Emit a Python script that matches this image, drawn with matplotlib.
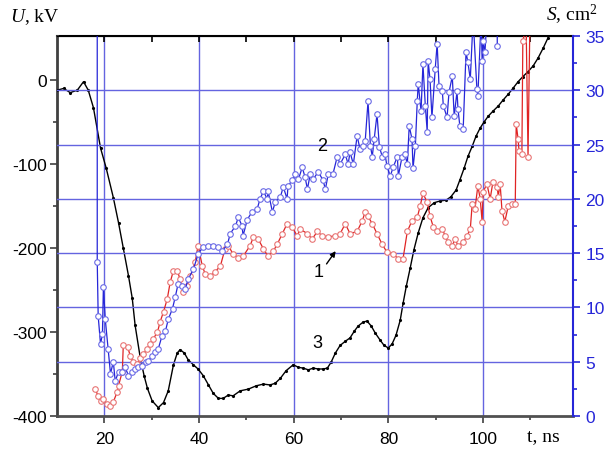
import matplotlib
matplotlib.use("Agg")
import matplotlib.pyplot as plt
from matplotlib.ticker import FixedLocator, MultipleLocator

plt.rcParams['font.family'] = ['Liberation Sans', 'DejaVu Sans']
plt.rcParams['axes.unicode_minus'] = False
plt.rcParams['mathtext.fontset'] = 'custom'
plt.rcParams['mathtext.rm'] = 'Liberation Serif'
plt.rcParams['mathtext.it'] = 'Liberation Serif:italic'

# curve 3: voltage U (kV) vs t (ns)
t_u = [10.1, 11.4, 12.8, 14.3, 15.6, 16.6, 17.7, 19.2, 20.4, 21.9, 23.0, 24.0,
       25.1, 25.9, 26.5, 27.6, 28.4, 29.1, 30.1, 31.4, 32.5, 33.5, 34.6, 35.4,
       36.0, 36.9, 37.7, 38.8, 39.8, 40.9, 42.0, 43.0, 44.1, 45.1, 46.2, 47.2,
       48.7, 50.4, 52.1, 53.6, 55.0, 56.1, 57.2, 58.4, 59.9, 61.0, 62.0, 63.1,
       64.1, 65.2, 66.2, 67.1, 67.9, 68.8, 69.8, 70.9, 71.9, 72.8, 73.6, 74.7,
       75.5, 76.4, 77.2, 78.3, 79.1, 80.0, 80.8, 81.6, 82.5, 83.1, 83.8, 84.6,
       85.4, 86.3, 87.3, 88.4, 89.7, 90.9, 92.2, 93.2, 94.3, 95.1, 96.0, 96.8,
       97.7, 98.5, 99.4, 100.2, 101.1, 102.1, 103.2, 104.2, 105.3, 106.3, 107.4,
       108.4, 109.5, 110.6, 111.6, 112.7, 113.7, 114.4]
u_kv = [-12, -10, -15, -12, -2, -12, -33, -81, -105, -140, -170, -200,
        -233, -260, -292, -331, -352, -367, -382, -390, -384, -370, -339, -325,
        -321, -325, -333, -339, -344, -352, -363, -373, -379, -379, -375, -376,
        -370, -368, -364, -362, -363, -361, -355, -346, -339, -342, -343, -345,
        -343, -344, -344, -343, -336, -325, -316, -311, -307, -299, -293, -288,
        -287, -293, -301, -310, -316, -319, -314, -304, -286, -266, -245, -224,
        -202, -182, -164, -152, -146, -144, -143, -139, -131, -119, -105, -91,
        -79, -67, -57, -50, -43, -37, -31, -24, -17, -10, -2,
        4, 10, 17, 26, 38, 50, 56]

# curve 1 (red): S (cm^2) vs t (ns)
t_red = [18.1, 18.7, 19.2, 19.8, 20.6, 21.3, 21.9, 22.7, 23.0, 23.8, 24.0, 24.9,
         25.5, 26.1, 27.0, 27.6, 28.2, 29.1, 29.7, 30.3, 31.2, 31.8, 32.5, 33.3,
         33.9, 34.6, 35.4, 36.0, 36.7, 37.5, 38.2, 39.2, 39.8, 40.7, 41.3, 42.4,
         43.4, 44.5, 45.5, 46.2, 47.2, 48.3, 49.3, 50.8, 51.5, 52.5, 53.6, 54.6,
         55.7, 56.5, 57.6, 58.6, 59.7, 60.7, 61.4, 62.9, 63.9, 65.0, 66.0, 67.3,
         68.8, 69.8, 70.9, 71.9, 73.4, 74.5, 75.1, 75.7, 76.6, 77.6, 78.7, 79.7,
         81.0, 82.1, 83.1, 84.0, 85.0, 86.1, 86.7, 87.3, 88.2, 88.8, 89.5, 90.3,
         91.4, 92.0, 92.6, 93.5, 94.1, 94.7, 95.8, 96.6, 97.3, 97.7, 98.3, 98.9,
         99.4, 99.8, 100.0, 100.8, 101.5, 102.1, 103.0, 103.2, 103.6, 104.0,
         104.6, 105.3, 106.1, 106.8, 107.0, 107.4, 107.6, 108.2, 108.4, 109.1,
         109.5, 109.9]
s_red = [2.5, 1.8, 1.4, 1.6, 1.1, 0.9, 1.3, 2.2, 2.8, 4.1, 6.5, 6.4,
         5.5, 5.0, 4.8, 5.3, 5.7, 6.2, 6.6, 7.1, 7.7, 8.7, 9.6, 10.8,
         12.3, 13.4, 13.4, 12.6, 11.4, 12.0, 12.9, 14.2, 15.7, 13.8, 13.1, 12.9,
         13.3, 13.8, 15.4, 15.7, 14.9, 14.6, 14.7, 15.7, 16.5, 16.3, 15.4, 14.7,
         15.2, 15.8, 16.8, 17.7, 17.4, 16.6, 17.2, 16.8, 16.3, 17.0, 16.6, 16.5,
         16.6, 16.8, 17.7, 16.8, 17.0, 18.0, 18.8, 18.4, 17.7, 16.8, 15.8, 15.1,
         14.9, 14.5, 14.5, 17.0, 18.0, 18.3, 19.3, 20.5, 19.7, 18.4, 17.4, 17.0,
         17.2, 16.6, 16.0, 15.7, 16.3, 15.7, 16.0, 16.6, 17.2, 19.5, 19.1, 21.2,
         20.0, 17.9, 20.6, 21.4, 20.0, 21.6, 21.1, 20.2, 21.4, 18.9,
         17.9, 19.3, 19.5, 19.5, 26.9, 25.5, 24.4, 24.1, 34.5, 36.0,
         23.9, 36.6]

# curve 2 (blue): S (cm^2) vs t (ns)
t_blue = [18.5, 18.5, 18.7, 19.2, 19.6, 19.8, 20.2, 20.8, 21.3, 21.9, 22.3, 23.0,
          23.8, 24.4, 25.1, 25.9, 26.5, 27.2, 28.0, 28.7, 29.3, 30.1, 30.8, 31.4,
          32.2, 32.9, 33.5, 34.4, 35.0, 35.6, 36.5, 37.1, 37.7, 38.8, 39.8, 40.9,
          42.0, 43.0, 44.1, 44.9, 46.0, 46.6, 47.7, 48.3, 49.1, 49.3, 50.2, 51.2,
          52.3, 52.9, 53.6, 54.4, 54.6, 55.5, 56.1, 57.2, 57.8, 58.6, 58.8, 59.7,
          60.3, 61.0, 61.8, 62.4, 62.9, 63.5, 64.1, 65.2, 66.2, 66.7, 67.3, 68.3,
          69.2, 69.8, 70.9, 71.5, 71.9, 72.6, 73.4, 74.0, 74.7, 75.1, 75.7, 76.2,
          76.6, 77.0, 77.6, 78.1, 78.7, 79.3, 79.7, 80.4, 81.0, 81.9, 82.1, 82.9,
          83.5, 84.0, 84.4, 85.0, 85.2, 85.7, 86.1, 86.3, 86.9, 87.3, 87.8, 88.2,
          88.4, 88.8, 89.2, 89.9, 90.3, 90.7, 91.4, 91.6, 92.4, 92.8, 93.5, 93.9,
          94.5, 94.7, 95.1, 95.8, 96.4, 96.8, 97.3, 97.9, 98.7, 98.9, 99.6, 99.8,
          100.0, 100.4, 100.8, 103.0, 103.0]
s_blue = [38.0, 14.2, 9.2, 6.6, 7.6, 11.9, 8.9, 6.2, 3.9, 5.0, 3.2, 4.1,
          4.1, 4.5, 3.7, 4.1, 4.3, 4.5, 4.6, 5.0, 5.1, 5.5, 5.9, 6.2,
          7.4, 7.8, 8.9, 9.9, 11.0, 12.2, 12.0, 11.7, 12.6, 13.5, 14.9, 15.6,
          15.7, 15.7, 15.6, 15.2, 15.8, 16.8, 17.5, 18.3, 17.5, 16.6, 18.1, 18.8,
          19.1, 20.0, 20.7, 20.0, 20.7, 18.8, 19.7, 20.2, 21.1, 20.0, 21.2, 21.7,
          22.3, 21.8, 22.9, 22.0, 20.9, 22.3, 21.8, 22.5, 21.7, 20.9, 22.3, 22.3,
          23.9, 23.2, 24.1, 23.2, 24.3, 23.2, 25.8, 24.6, 24.9, 25.3, 29.0, 24.9,
          23.9, 25.5, 27.8, 24.8, 23.9, 24.1, 23.0, 22.1, 22.9, 23.9, 22.1, 23.9,
          24.1, 23.2, 26.7, 25.5, 22.8, 24.9, 29.0, 30.6, 28.1, 32.4, 28.6, 26.2,
          32.7, 31.0, 27.5, 32.0, 34.3, 30.4, 29.9, 28.6, 27.5, 29.8, 31.3, 27.6,
          29.9, 28.3, 26.7, 26.4, 33.5, 32.6, 31.0, 36.6, 30.1, 29.5, 36.6, 32.7,
          34.5, 33.5, 36.6, 36.6, 34.1]

grid_c = '#6464e0'
blue = '#2626d8'

fig = plt.figure(figsize=(6.07, 4.52), dpi=100)
ax = fig.add_axes([0.0939, 0.0774, 0.8501, 0.8407])
ax2 = ax.twinx()

for v in [20, 40, 60, 80, 100]:
    ax.axvline(v, color=grid_c, lw=1, zorder=0)
for v in [5, 10, 15, 20, 25, 30]:
    ax2.axhline(v, color=grid_c, lw=1, zorder=0)

ax.plot(t_u, u_kv, color='black', lw=1, marker='.', ms=2.5, zorder=3)

ax2.plot(t_red, s_red, color='#e02424', lw=0.9, marker='o', ms=4,
         mfc='white', mec='#e87474', mew=0.8, zorder=2)
ax2.plot(t_blue, s_blue, color=blue, lw=0.9, marker='o', ms=4,
         mfc='white', mec='#6a6ae6', mew=0.8, zorder=2)

ax.set_xlim(10, 119)
ax.set_ylim(-400, 52.4)
ax2.set_ylim(0, 35)

ax.xaxis.set_major_locator(FixedLocator([20, 40, 60, 80, 100]))
ax.xaxis.set_minor_locator(FixedLocator([30, 50, 70, 90, 110]))
ax.yaxis.set_major_locator(FixedLocator([-400, -300, -200, -100, 0]))
ax.yaxis.set_minor_locator(FixedLocator([-350, -250, -150, -50]))
ax2.yaxis.set_major_locator(MultipleLocator(5))
ax2.yaxis.set_minor_locator(MultipleLocator(2.5))

ax.tick_params(axis='both', which='major', direction='out', length=5, width=1.2,
               labelsize=12.5, color='#404040')
ax.tick_params(axis='both', which='minor', direction='out', length=3, width=1.2,
               color='#404040')
ax.tick_params(axis='y', pad=2)
ax.tick_params(axis='x', pad=6)
ax2.tick_params(axis='y', which='major', direction='out', length=5, width=1.2,
                colors=blue, labelsize=12.5, pad=4)
ax2.tick_params(axis='y', which='minor', direction='out', length=3, width=1.2,
                colors=blue)

top = ax.secondary_xaxis('top')
top.xaxis.set_major_locator(FixedLocator([20, 40, 60, 80, 100]))
top.xaxis.set_minor_locator(FixedLocator([30, 50, 70, 90, 110]))
top.tick_params(which='both', direction='in', length=4, width=1.2, labeltop=False)
top.spines['top'].set_linewidth(1.5)

ax.spines['left'].set_color('#404040')
ax.spines['left'].set_linewidth(2)
ax.spines['bottom'].set_color('#505050')
ax.spines['bottom'].set_linewidth(2)
ax.spines['right'].set_visible(False)
ax2.spines['left'].set_visible(False)
ax2.spines['bottom'].set_visible(False)
ax2.spines['top'].set_visible(False)
ax2.spines['right'].set_color(blue)
ax2.spines['right'].set_linewidth(1.5)

ax2.text(65.2, 13.3, '1', fontsize=13, ha='center', va='center')
ax2.annotate('', xy=(69.2, 15.4), xytext=(66.6, 13.8),
             arrowprops=dict(arrowstyle='-|>', color='black', lw=1,
                             mutation_scale=8))
ax2.text(66.0, 24.9, '2', fontsize=13, ha='center', va='center')
ax.text(65.0, -313, '3', fontsize=13, ha='center', va='center')

fig.text(10 / 607, 1 - 17 / 452, '$U$, kV', family='Liberation Serif',
         fontsize=14, ha='left', va='center')
fig.text(598 / 607, 1 - 15 / 452, '$S$, cm$^2$', family='Liberation Serif',
         fontsize=14, ha='right', va='center')
fig.text(527 / 607, 1 - 437 / 452, 't, ns', family='Liberation Serif',
         fontsize=14, ha='left', va='center')

fig.savefig('out.png', dpi=100)
